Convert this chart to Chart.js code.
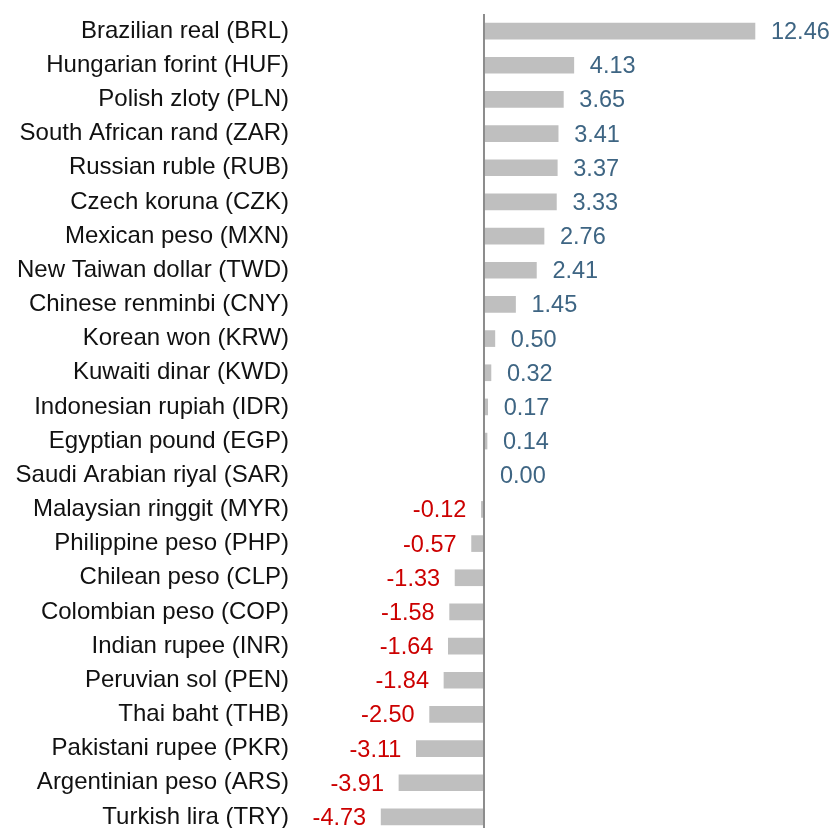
<!DOCTYPE html>
<html>
<head>
<meta charset="utf-8">
<script src="https://cdn.jsdelivr.net/npm/chart.js@4"></script>
<style>
  html, body { margin: 0; padding: 0; background: #fff; overflow: hidden; }
  canvas { display: block; }
</style>
</head>
<body>
<canvas id="fxChart" width="835" height="834"></canvas>
<script>
// currencies, top to bottom
const currencies = [
    'Brazilian real (BRL)', 'Hungarian forint (HUF)', 'Polish zloty (PLN)', 'South African rand (ZAR)',
    'Russian ruble (RUB)', 'Czech koruna (CZK)', 'Mexican peso (MXN)', 'New Taiwan dollar (TWD)',
    'Chinese renminbi (CNY)', 'Korean won (KRW)', 'Kuwaiti dinar (KWD)', 'Indonesian rupiah (IDR)',
    'Egyptian pound (EGP)', 'Saudi Arabian riyal (SAR)', 'Malaysian ringgit (MYR)', 'Philippine peso (PHP)',
    'Chilean peso (CLP)', 'Colombian peso (COP)', 'Indian rupee (INR)', 'Peruvian sol (PEN)',
    'Thai baht (THB)', 'Pakistani rupee (PKR)', 'Argentinian peso (ARS)', 'Turkish lira (TRY)'
];
const changes = [
    12.46, 4.13, 3.65, 3.41, 3.37, 3.33, 2.76, 2.41, 1.45, 0.50, 0.32, 0.17,
    0.14, 0.00, -0.12, -0.57, -1.33, -1.58, -1.64, -1.84, -2.50, -3.11, -3.91, -4.73
];

const FONT = '"Liberation Sans", Arial, sans-serif';

// zero line + value labels
const valueLabels = {
    id: 'valueLabels',
    afterDatasetsDraw(chart) {
        const ctx = chart.ctx;
        const x = chart.scales.x;
        const y = chart.scales.y;
        const x0 = x.getPixelForValue(0);
        ctx.save();
        ctx.strokeStyle = '#8c8c8c';
        ctx.lineWidth = 2;
        ctx.beginPath();
        ctx.moveTo(x0, chart.chartArea.top);
        ctx.lineTo(x0, chart.chartArea.bottom);
        ctx.stroke();

        ctx.font = '23.5px ' + FONT;
        ctx.textBaseline = 'middle';
        changes.forEach((v, i) => {
            const py = y.getPixelForValue(i) + 1.5;
            const px = x.getPixelForValue(v);
            if (v >= 0) {
                ctx.fillStyle = '#3e6583';
                ctx.textAlign = 'left';
                ctx.fillText(v.toFixed(2), Math.max(px, x0) + 16, py);
            } else {
                ctx.fillStyle = '#cc0000';
                ctx.textAlign = 'right';
                ctx.fillText(v.toFixed(2), px - 15, py);
            }
        });
        ctx.restore();
    }
};

new Chart(document.getElementById('fxChart').getContext('2d'), {
    type: 'bar',
    data: {
        labels: currencies,
        datasets: [{
            data: changes,
            backgroundColor: '#bfbfbf',
            barThickness: 16
        }]
    },
    options: {
        indexAxis: 'y',
        responsive: false,
        animation: false,
        layout: { padding: { top: 14, right: 0, bottom: 0, left: 0 } },
        plugins: {
            legend: { display: false },
            tooltip: { enabled: false }
        },
        scales: {
            x: {
                display: false,
                min: -8.69,
                max: 16.14
            },
            y: {
                afterFit(scale) {
                    scale.width = 295;
                    scale.paddingTop = 0;
                    scale.paddingBottom = 0;
                },
                grid: { display: false, drawTicks: false },
                border: { display: false },
                ticks: {
                    padding: 6,
                    color: '#111',
                    font: { family: FONT, size: 24 }
                }
            }
        }
    },
    plugins: [valueLabels]
});
</script>
</body>
</html>
